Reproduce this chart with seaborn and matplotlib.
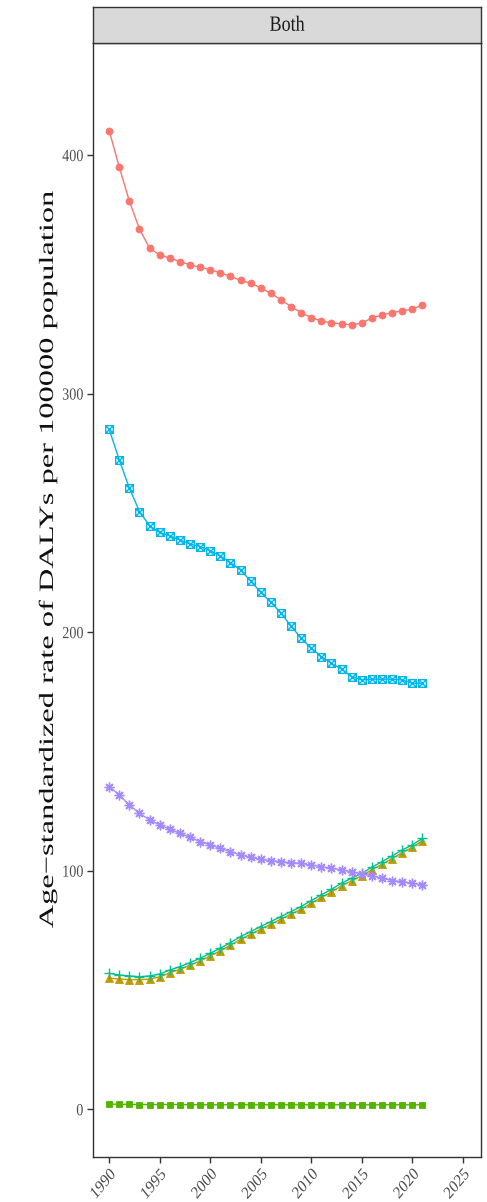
import matplotlib
matplotlib.use("Agg")
import matplotlib.pyplot as plt
from matplotlib.path import Path
from matplotlib.patheffects import AbstractPathEffect
from matplotlib.transforms import Affine2D
import numpy as np
import pandas as pd
import seaborn as sns

years = list(range(1990, 2022))

cause_names = ["Cause 1", "Cause 2", "Cause 3", "Cause 4", "Cause 5", "Cause 6"]

cause_1 = [410.3, 395.0, 380.7, 369.0, 361.0, 358.2, 356.8, 355.4, 354.0, 353.0,
           352.0, 350.6, 349.2, 347.5, 346.3, 344.4, 342.0, 339.4, 336.5, 334.0,
           331.9, 330.5, 329.6, 329.3, 328.8, 329.6, 331.7, 333.0, 334.0, 334.7,
           335.4, 337.2]
cause_2 = [55.0, 54.6, 54.4, 54.3, 54.6, 55.5, 57.2, 58.7, 60.4, 62.2,
           64.3, 66.4, 68.8, 71.2, 73.4, 75.5, 77.6, 79.7, 81.8, 83.9,
           86.4, 88.8, 91.1, 93.7, 95.8, 97.9, 100.4, 102.7, 105.1, 107.6,
           109.8, 112.6]
cause_3 = [2.2, 2.1, 2.1, 2.0, 2.0, 2.0, 2.0, 2.0, 1.9, 1.9,
           1.9, 1.9, 1.9, 1.9, 1.9, 1.9, 1.9, 1.9, 1.9, 1.9,
           1.9, 1.9, 1.9, 1.9, 1.9, 1.9, 1.9, 1.9, 1.9, 1.9,
           1.9, 1.9]
cause_4 = [57.0, 56.3, 55.9, 55.6, 55.9, 56.7, 58.4, 59.8, 61.5, 63.3,
           65.4, 67.5, 69.9, 72.4, 74.5, 76.6, 78.7, 80.8, 82.9, 85.0,
           87.5, 89.9, 92.2, 94.8, 96.9, 98.9, 101.5, 103.8, 106.2, 108.7,
           110.8, 113.6]
cause_5 = [285.1, 272.2, 260.4, 250.6, 244.6, 241.8, 240.4, 238.7, 237.0, 235.9,
           234.2, 232.0, 229.2, 226.1, 221.5, 216.7, 212.6, 208.0, 202.6, 197.5,
           193.3, 189.8, 187.0, 184.5, 181.4, 180.0, 180.3, 180.3, 180.3, 180.0,
           178.6, 178.6]
cause_6 = [135.3, 131.8, 127.6, 124.1, 121.3, 119.2, 117.4, 115.7, 114.0, 112.2,
           110.8, 109.4, 108.0, 106.6, 105.7, 104.8, 104.2, 103.8, 103.4, 103.1,
           102.4, 101.7, 101.1, 100.3, 99.6, 98.7, 97.8, 96.9, 95.9, 95.4,
           94.8, 94.0]

x_ticks = [1990, 1995, 2000, 2005, 2010, 2015, 2020, 2025]
y_ticks = [0, 100, 200, 300, 400]
facet_label = "Both"
y_title = "Age\u2212standardized rate of DALYs per 100000 population"

palette = ["#F8766D", "#C49A00", "#53B400", "#00C094", "#00B6EB", "#A58AFF"]

# open square with a cross inside
sq_x = Path(
    [(-1, -1), (1, -1), (1, 1), (-1, 1), (-1, -1), (-1, -1), (1, 1), (-1, 1), (1, -1)],
    [Path.MOVETO, Path.LINETO, Path.LINETO, Path.LINETO, Path.CLOSEPOLY,
     Path.MOVETO, Path.LINETO, Path.MOVETO, Path.LINETO],
)
markers = ["o", "^", "s", "+", sq_x, (8, 2, 0)]
filled = [True, True, True, False, False, False]
msizes = [5.0, 5.5, 5.0, 6.5, 5.5, 7.0]

STRETCH = 1.2
TITLE_STRETCH = 1.6


class TallText(AbstractPathEffect):
    """Draw glyphs stretched vertically about a fixed horizontal line."""

    def __init__(self, sy=STRETCH, anchor="center"):
        super().__init__()
        self.sy = sy
        self.anchor = anchor

    def draw_path(self, renderer, gc, tpath, affine, rgbFace=None):
        ext = tpath.get_extents(affine)
        if self.anchor == "top":
            y0 = ext.y1
        elif self.anchor == "bottom":
            y0 = ext.y0
        else:
            y0 = 0.5 * (ext.y0 + ext.y1)
        aff = affine + Affine2D().translate(0, -y0).scale(1, self.sy).translate(0, y0)
        renderer.draw_path(gc, tpath, aff, rgbFace)


series = [cause_1, cause_2, cause_3, cause_4, cause_5, cause_6]
df = pd.concat(
    [pd.DataFrame({"year": years, "rate": vals, "cause": name})
     for name, vals in zip(cause_names, series)],
    ignore_index=True,
)

sns.set_theme(style="white")
plt.rcParams["font.family"] = ["Liberation Serif", "DejaVu Serif"]

W, H = 487, 1202
fig = plt.figure(figsize=(W / 100, H / 100), dpi=100)
left, right, top, bottom = 93, 481, 43, 1157
ax = fig.add_axes([left / W, 1 - bottom / H, (right - left) / W, (bottom - top) / H])

sns.lineplot(data=df, x="year", y="rate", hue="cause", hue_order=cause_names,
             palette=palette, legend=False, linewidth=1.0, ax=ax)

for line, col, mk, fill, ms in zip(ax.lines, palette, markers, filled, msizes):
    line.set_marker(mk)
    line.set_markersize(ms)
    line.set_markeredgecolor(col)
    line.set_markerfacecolor(col if fill else "none")
    line.set_markeredgewidth(0.6 if fill else 1.0)

ax.set_xlim(1988.4, 2026.8)
ax.set_ylim(-20, 447)
ax.set_xticks(x_ticks)
ax.set_yticks(y_ticks)
ax.set_xticklabels([str(t) for t in x_ticks], rotation=45, ha="right",
                   va="top", rotation_mode="anchor", fontsize=10.5, color="#4D4D4D")
ax.set_yticklabels([str(t) for t in y_ticks], fontsize=10.2, color="#4D4D4D")
ax.tick_params(axis="both", which="major", direction="out", length=4,
               width=1.0, color="#333333", bottom=True, left=True, pad=3)
for lab in ax.get_xticklabels():
    lab.set_path_effects([TallText(STRETCH, "top")])
for lab in ax.get_yticklabels():
    lab.set_path_effects([TallText(STRETCH, "center")])

ax.set_xlabel("")
ylab = ax.set_ylabel(y_title, fontsize=14.6, color="#111111")
ylab.set_verticalalignment("center")
ylab.set_horizontalalignment("center")
ax.yaxis.set_label_coords((48 - left) / (right - left), (bottom - 560) / (bottom - top))
ylab.set_path_effects([TallText(TITLE_STRETCH, "center")])

ax.grid(False)
for s in ax.spines.values():
    s.set_color("#333333")
    s.set_linewidth(1.0)

strip = fig.add_axes([left / W, 1 - top / H, (right - left) / W, (top - 7) / H])
strip.set_facecolor("#D9D9D9")
strip.set_xticks([])
strip.set_yticks([])
for s in strip.spines.values():
    s.set_color("#333333")
    s.set_linewidth(1.0)
strip.text(0.5, 0.5, facet_label, ha="center", va="center", fontsize=13,
           color="#1A1A1A", transform=strip.transAxes,
           path_effects=[TallText(STRETCH, "center")])

fig.savefig("out.png", dpi=100, facecolor="white")
